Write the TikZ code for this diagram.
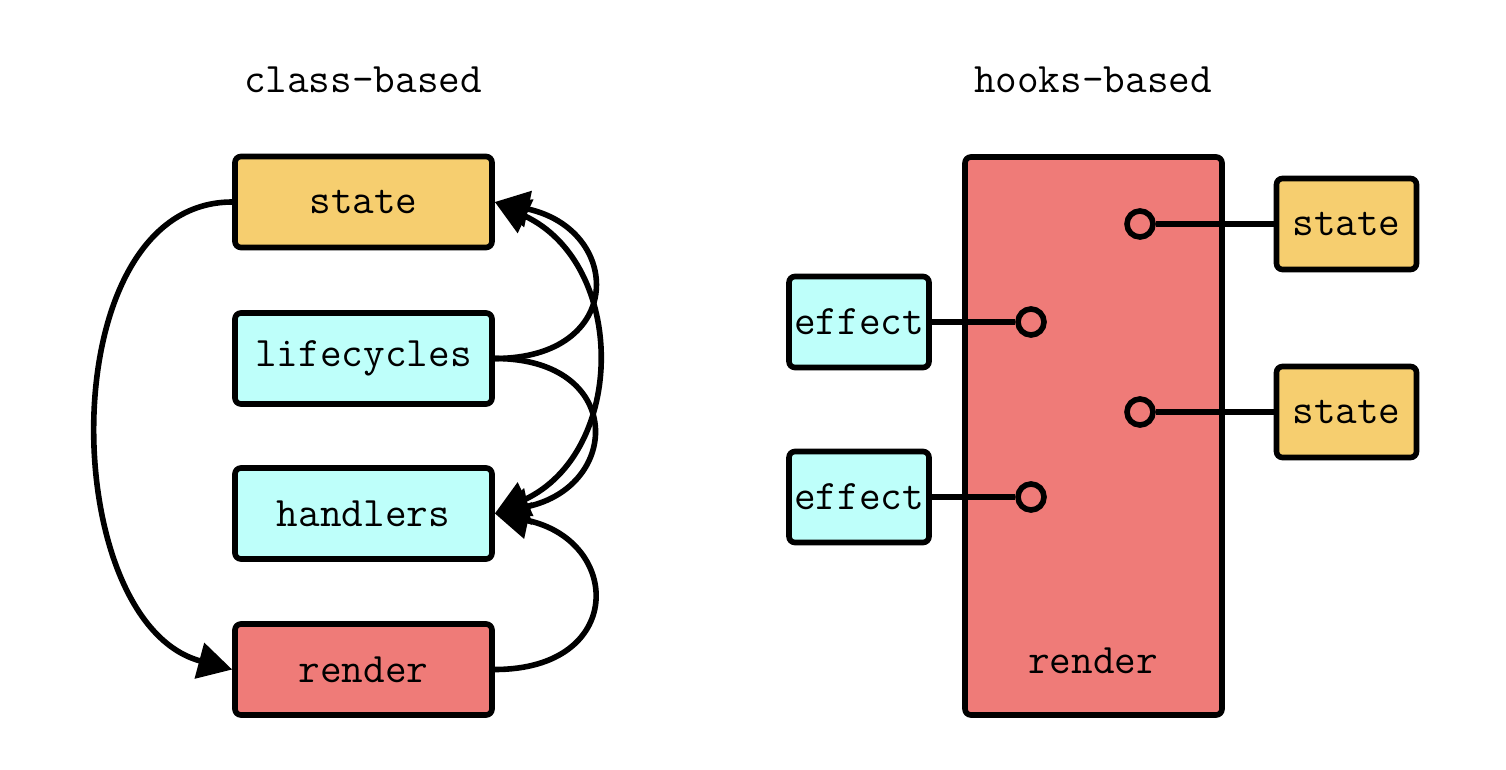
\documentclass[tikz,border=0pt]{standalone}
\usepackage{fontspec}
\usetikzlibrary{arrows.meta}
\definecolor{statecol}{RGB}{246,206,111}
\definecolor{actcol}{RGB}{190,255,250}
\definecolor{rendercol}{RGB}{239,123,120}
\tikzset{
  txt/.style={font=\ttfamily\fontsize{21}{25}\selectfont},
  box/.style={txt, draw, line width=2.8pt, rounded corners=3pt, inner sep=0pt,
    minimum width=128.5pt, minimum height=45.5pt},
  hookbox/.style={box, minimum width=70pt},
  dot/.style={circle, draw, line width=2.8pt, fill=rendercol, minimum size=13pt, inner sep=0pt},
  flow/.style={line width=2.8pt, -{Triangle[length=17pt,width=18pt]}},
  twoway/.style={line width=2.8pt, {Triangle[length=17pt,width=18pt]}-{Triangle[length=17pt,width=18pt]}},
  wire/.style={line width=2.8pt},
}
\begin{document}
\begin{tikzpicture}[x=0.5pt, y=0.5pt]
        \useasboundingbox (0,0) rectangle (1506,-770);
        % class-based
        \node[txt] (classtitle) at (363,-80) {class-based};
        \node[box, fill=statecol] (state) at (363.5,-202) {state};
        \node[box, fill=actcol] (life) at (363.5,-358.5) {lifecycles};
        \node[box, fill=actcol] (handlers) at (363.5,-513.5) {handlers};
        \node[box, fill=rendercol] (render) at (363.5,-669.5) {render};
        \draw[flow] (state.west) to[out=180, in=165, looseness=1.0] (render.west);
        \draw[flow] (life.east) to[out=0, in=-12, looseness=2.15] (state.east);
        \draw[flow] (life.east) to[out=0, in=12, looseness=2.15] (handlers.east);
        \draw[twoway] (state.east) to[out=-25, in=25, looseness=1.2] (handlers.east);
        \draw[flow] (render.east) to[out=0, in=-12, looseness=2.15] (handlers.east);
        % hooks-based
        \node[txt] (hooktitle) at (1093,-80) {hooks-based};
        \node[box, fill=rendercol, minimum height=279pt] (hrender) at (1093.5,-436) {};
        \node[txt] (hrenderlabel) at (1093,-661) {render};
        \node[hookbox, fill=statecol] (hstate1) at (1346.5,-224) {state};
        \node[hookbox, fill=statecol] (hstate2) at (1346.5,-412) {state};
        \node[hookbox, fill=actcol] (effect1) at (859,-322) {effect};
        \node[hookbox, fill=actcol] (effect2) at (859,-497) {effect};
        \node[dot] (c1) at (1140,-224) {};
        \node[dot] (c2) at (1031,-322) {};
        \node[dot] (c3) at (1140,-412) {};
        \node[dot] (c4) at (1031,-497) {};
        \draw[wire] (c1) -- (hstate1);
        \draw[wire] (c3) -- (hstate2);
        \draw[wire] (effect1) -- (c2);
        \draw[wire] (effect2) -- (c4);
\end{tikzpicture}
\end{document}
